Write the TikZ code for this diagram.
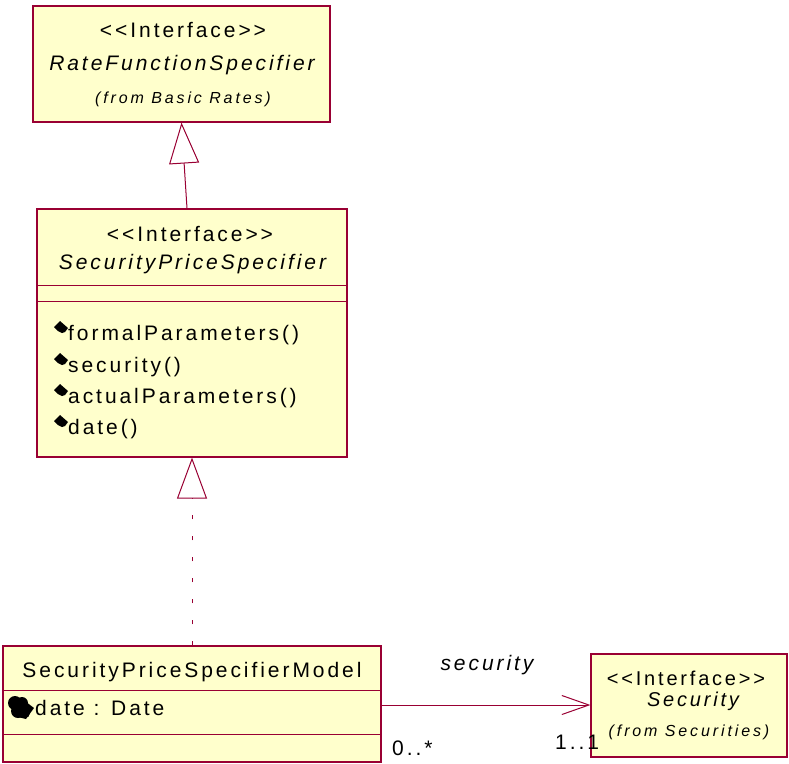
\documentclass[tikz,border=0pt]{standalone}
\usepackage{fontspec}
\setmainfont{Liberation Sans}[LetterSpace=14, Ligatures=TeXOff]
\newfontfamily\pkgfont{Liberation Sans}[LetterSpace=18, Ligatures=TeXOff]
\usetikzlibrary{arrows.meta,calc}

\definecolor{umlfill}{RGB}{255,255,204}
\definecolor{umlline}{RGB}{153,0,51}

\newcommand{\fsz}[1]{\fontsize{#1}{#1}\selectfont}

\tikzset{
  umlbox/.style={draw=umlline, fill=umlfill, line width=1.2pt, inner sep=0pt, rectangle},
  txt/.style={inner sep=0pt, anchor=base, font=\fsz{21}},
  itxt/.style={txt, font=\fsz{21}\itshape},
  small/.style={inner sep=0pt, anchor=base, font=\pkgfont\fsz{16}\itshape},
  rule/.style={draw=umlline, line width=1pt},
  gen/.style={draw=umlline, line width=1pt,
    -{Triangle[open, length=41pt, width=30pt, fill=white]}},
  assoc/.style={draw=umlline, line width=1pt,
    -{Straight Barb[length=27pt, width=19pt]}},
  opicon/.style={fill=black, draw=none},
}

\begin{document}
\begin{tikzpicture}[x=1pt, y=-1pt]
\useasboundingbox (0,0) rectangle (789,763);

% RateFunctionSpecifier
\node[umlbox, minimum width=297pt, minimum height=116pt] (rfs) at (181.5,64) {};
\node[txt] (rfsst) at (183,37) {<<Interface>>};
\node[itxt] (rfsname) at (182,70) {RateFunctionSpecifier};
\node[small] (rfspkg) at (183,103) {(from Basic Rates)};

% SecurityPriceSpecifier
\node[umlbox, minimum width=310pt, minimum height=248pt] (sps) at (192,333) {};
\draw[rule] (sps.west |- 0,285) -- (sps.east |- 0,285);
\draw[rule] (sps.west |- 0,301) -- (sps.east |- 0,301);
\node[txt] (spsst) at (190,241) {<<Interface>>};
\node[itxt] (spsname) at (192.5,269) {SecurityPriceSpecifier};
\foreach \yy/\nm/\lbl in {333/m1/formalParameters(), 365/m2/security(), 396/m3/actualParameters(), 427/m4/date()} {
  \node[txt, anchor=base west] (\nm) at (68,\yy+7) {\lbl};
  \fill[opicon] (54,\yy-6) -- (60,\yy-12) -- (68,\yy-5) -- (65,\yy-1) -- (62,\yy+0) -- (58,\yy-2) -- cycle;
}

% SecurityPriceSpecifierModel
\node[umlbox, minimum width=378pt, minimum height=116pt] (spsm) at (192,704) {};
\draw[rule] (spsm.west |- 0,690) -- (spsm.east |- 0,690);
\draw[rule] (spsm.west |- 0,734) -- (spsm.east |- 0,734);
\node[txt] (spsmname) at (192,677) {SecurityPriceSpecifierModel};
\node[txt, anchor=base west] (attr) at (35,715) {date : Date};
% attribute icon
\fill[opicon] (15,703) circle (7pt);
\fill[opicon] (22,703) circle (6pt);
\fill[opicon] (18,711) circle (7pt);
\fill[opicon] (25,713) circle (5pt);
\fill[opicon] (21,698) -- (34,708) -- (26,719) -- (14,716) -- cycle;

% Security
\node[umlbox, minimum width=196pt, minimum height=103pt] (sec) at (689,705.5) {};
\node[inner sep=0pt, anchor=base, font=\fsz{20}] (secst) at (686,685) {<<Interface>>};
\node[inner sep=0pt, anchor=base, font=\fsz{20}\itshape] (secname) at (693,706) {Security};
\node[small] (secpkg) at (689,736) {(from Securities)};

% connectors
\draw[gen] ($(sps.north)+(-5,0)$) -- (rfs.south);
\draw[gen, dash pattern=on 4pt off 17pt] (spsm.north) -- (sps.south);
\draw[assoc] (spsm.east |- 0,705) -- (sec.west |- 0,705);

% association labels
\node[itxt] (rolelbl) at (487,670) {security};
\node[txt, anchor=base west] (mult1) at (392,755) {0..*};
\node[txt, anchor=base west] (mult2) at (555,749) {1..1};
\end{tikzpicture}
\end{document}
